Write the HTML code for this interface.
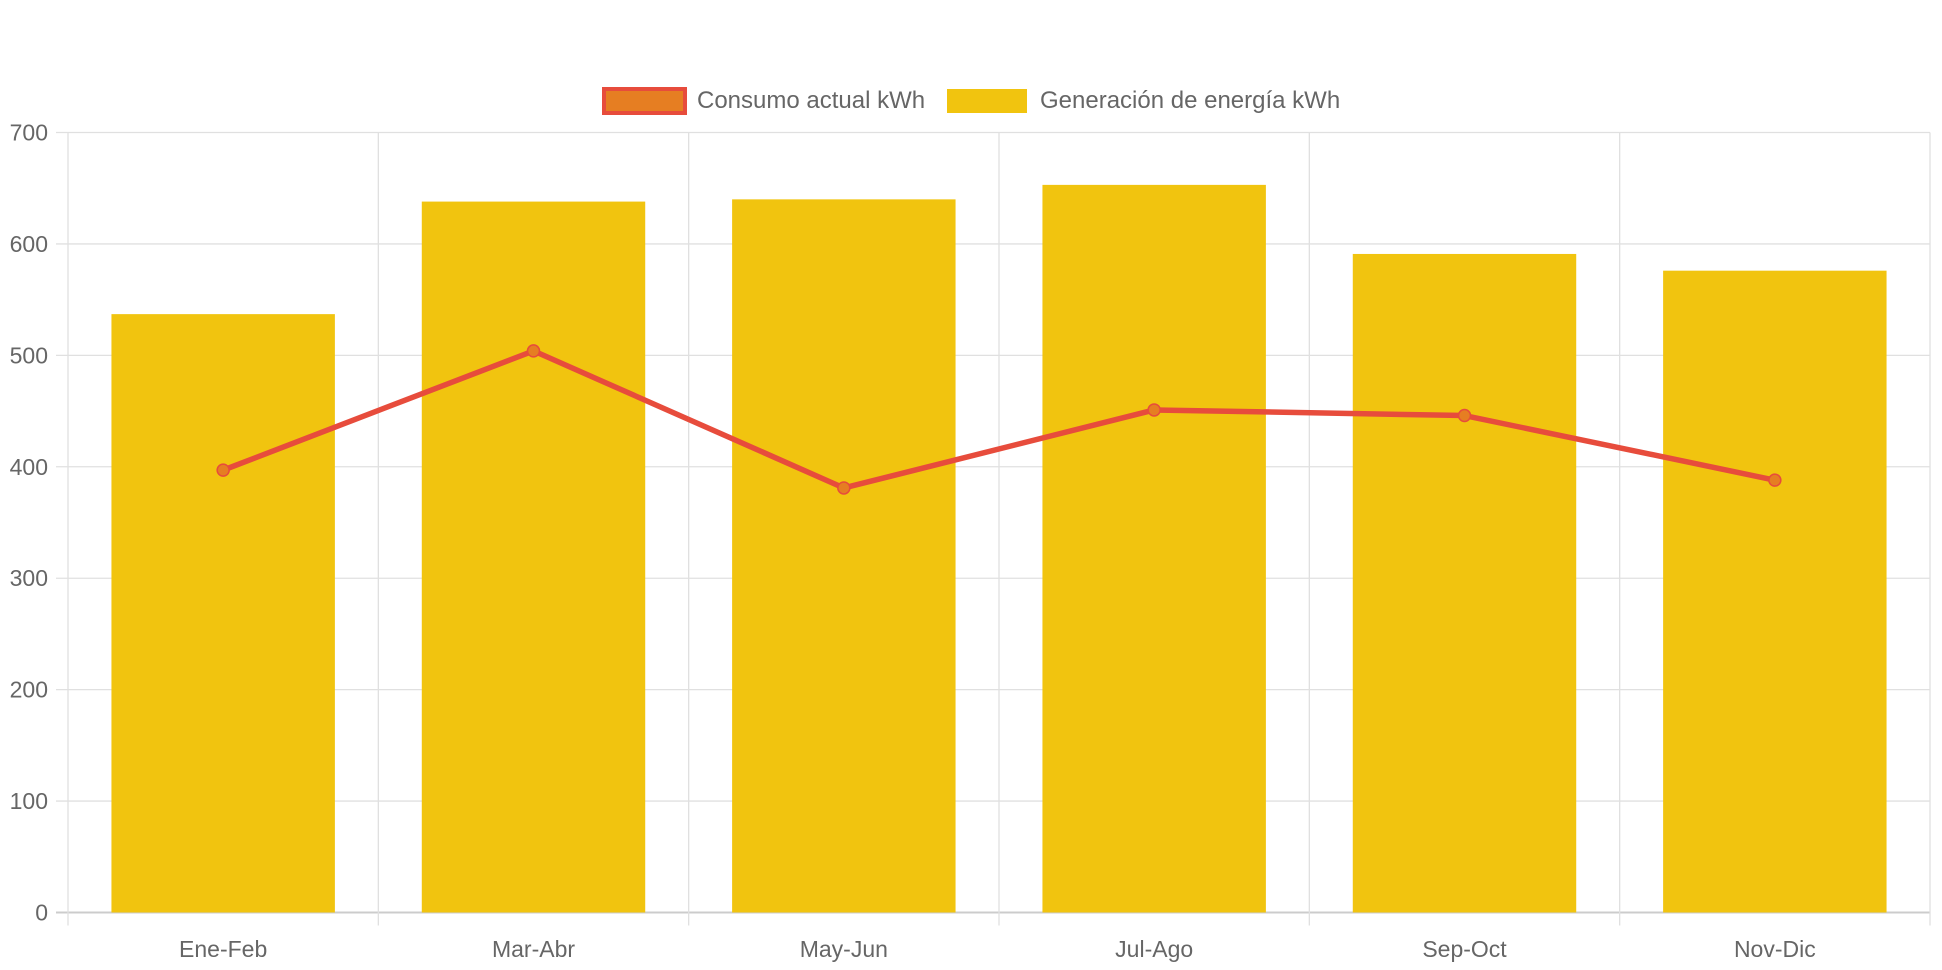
<!DOCTYPE html>
<html><head><meta charset="utf-8"><style>
html,body{margin:0;padding:0;background:#fff;}
svg{display:block;font-family:"Liberation Sans",Arial,sans-serif;}
</style></head><body>
<svg id="chart" width="1942" height="970" viewBox="0 0 1942 970" xmlns="http://www.w3.org/2000/svg">
<g id="legend">
 <g>
  <rect x="604" y="89" width="81" height="24" fill="#e67e22" stroke="#e74c3c" stroke-width="4"/>
  <text x="697" y="108" font-size="24" fill="#666">Consumo actual kWh</text>
 </g>
 <g>
  <rect x="947" y="89" width="80" height="24" fill="#f1c40f"/>
  <text x="1040" y="108" font-size="24" fill="#666">Generación de energía kWh</text>
 </g>
</g>
<g id="grid"></g>
<g id="bars"></g>
<g id="line"></g>
<g id="labels"></g>
</svg>
<script>
const categories = ["Ene-Feb","Mar-Abr","May-Jun","Jul-Ago","Sep-Oct","Nov-Dic"];
const generacion = [537, 638, 640, 653, 591, 576];
const consumo = [397, 504, 381, 451, 446, 388];
const yTicks = [0,100,200,300,400,500,600,700];

const NS="http://www.w3.org/2000/svg";
const L=68,R=1930,T=132.5,B=912.5,YMAX=700;
const cw=(R-L)/categories.length;
function y(v){return B-(v/YMAX)*(B-T);}
function xc(i){return L+cw*(i+0.5);}
function mk(tag,attrs,parent){const e=document.createElementNS(NS,tag);for(const k in attrs)e.setAttribute(k,attrs[k]);parent.appendChild(e);return e;}
const grid=document.getElementById('grid'),bars=document.getElementById('bars'),line=document.getElementById('line'),labels=document.getElementById('labels');

yTicks.forEach(t=>{
 const g=mk('line',{x1:L-12,x2:R,y1:y(t),y2:y(t),stroke:t===0?'#ccc':'#e0e0e0','stroke-width':t===0?2:1.3},grid);
 
 
 const tx=mk('text',{x:L-20,y:y(t)+8,'text-anchor':'end','font-size':23,fill:'#666'},labels);
 tx.textContent=t;
 
 
});
for(let i=0;i<=categories.length;i++){
 const x=L+cw*i;
 const g=mk('line',{x1:x,x2:x,y1:T,y2:B+13,stroke:'#e0e0e0','stroke-width':1.3},grid);
 
 
}
categories.forEach((c,i)=>{
 const bw=cw*0.72;
 const r=mk('rect',{x:xc(i)-bw/2,y:y(generacion[i]),width:bw,height:B-y(generacion[i]),fill:'#f1c40f'},bars);
 
 
 const tx=mk('text',{x:xc(i),y:957,'text-anchor':'middle','font-size':23,fill:'#666'},labels);
 tx.textContent=c;
 
 
});
const pts=consumo.map((v,i)=>xc(i)+','+y(v)).join(' ');
const pl=mk('polyline',{points:pts,fill:'none',stroke:'#e74c3c','stroke-width':5.5,'stroke-linejoin':'round'},line);


consumo.forEach((v,i)=>{
 const c=mk('circle',{cx:xc(i),cy:y(v),r:6,fill:'#e67e22',stroke:'#e74c3c','stroke-width':1.5},line);
 
 
});
</script>
</body></html>
